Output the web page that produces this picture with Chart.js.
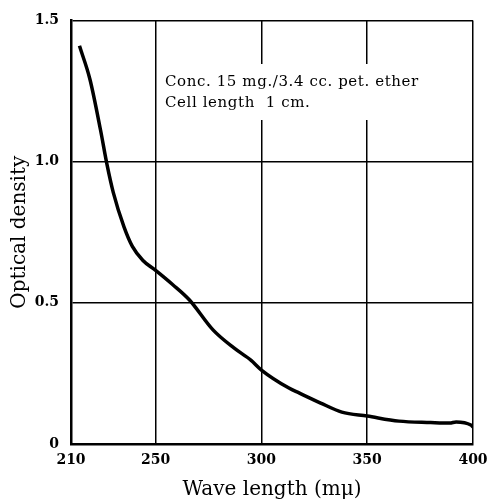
<!DOCTYPE html>
<html lang="en">
<head>
    <meta charset="UTF-8">
    <title>Optical density vs wave length</title>
    <script src="https://cdn.jsdelivr.net/npm/chart.js"></script>
    <style>
        html, body { margin: 0; padding: 0; background: #fff; }
        #wrap { width: 488px; height: 500px; }
    </style>
</head>
<body>
    <div id="wrap"><canvas id="absChart" width="488" height="500"></canvas></div>

    <script>
        // wave length (m-mu) and optical density
        var waveLength = [214, 219, 224, 227, 230, 235, 239, 244, 250, 258, 266, 277, 287, 295, 300, 313, 318, 328, 338, 350, 365, 380, 389, 392, 399, 400];
        var density    = [1.41, 1.29, 1.11, 0.99, 0.89, 0.77, 0.70, 0.65, 0.615, 0.565, 0.51, 0.405, 0.34, 0.297, 0.262, 0.198, 0.18, 0.145, 0.113, 0.099, 0.081, 0.076, 0.074, 0.078, 0.067, 0.06];

        var xTicks = [210, 250, 300, 350, 400];
        var yTicks = [0, 0.5, 1.0, 1.5];
        var yTickLabels = ['0', '0.5', '1.0', '1.5'];

        var noteLines = ['Conc. 15 mg./3.4 cc. pet. ether', 'Cell length  1 cm.'];

        var points = waveLength.map(function (w, i) { return { x: w, y: density[i] }; });

        // white box behind the note, so grid lines break around it
        var notePlugin = {
            id: 'note',
            beforeDatasetsDraw: function (chart) {
                var ctx = chart.ctx;
                ctx.save();
                ctx.fillStyle = '#fff';
                ctx.fillRect(160, 64, 272, 56);
                ctx.fillStyle = '#000';
                ctx.font = '15px "DejaVu Serif"';
                ctx.letterSpacing = '0.6px';
                ctx.textBaseline = 'middle';
                ctx.fillText(noteLines[0], 165, 82);
                ctx.fillText(noteLines[1], 165, 103);
                ctx.letterSpacing = '0px';
                ctx.restore();
            }
        };

        var tickFont = { family: 'DejaVu Serif', size: 14, weight: 'bold' };
        var titleFont = { family: 'DejaVu Serif', size: 20, lineHeight: 1 };

        var chart = new Chart(document.getElementById('absChart'), {
            type: 'line',
            data: {
                datasets: [{
                    data: points,
                    borderColor: '#000',
                    borderWidth: 3.5,
                    pointRadius: 0,
                    fill: false,
                    cubicInterpolationMode: 'monotone'
                }]
            },
            options: {
                responsive: false,
                animation: false,
                layout: { padding: { top: 20, right: 15, left: 0, bottom: 0 } },
                plugins: { legend: { display: false }, tooltip: { enabled: false } },
                scales: {
                    x: {
                        type: 'linear',
                        min: 210,
                        max: 400,
                        afterBuildTicks: function (s) { s.ticks = xTicks.map(function (v) { return { value: v }; }); },
                        afterFit: function (s) { s.height = 56; s.paddingLeft = 0; s.paddingRight = 0; },
                        grid: { color: '#000', lineWidth: 1.5, drawTicks: false },
                        border: { color: '#000', width: 2.5 },
                        ticks: { color: '#000', font: tickFont, padding: 8, maxRotation: 0 },
                        title: { display: true, text: 'Wave length (m\u03bc)', color: '#000', font: titleFont, padding: 0 }
                    },
                    y: {
                        min: 0,
                        max: 1.5,
                        afterBuildTicks: function (s) { s.ticks = yTicks.map(function (v) { return { value: v }; }); },
                        afterFit: function (s) { s.width = 71; },
                        grid: { color: '#000', lineWidth: 1.5, drawTicks: false },
                        border: { color: '#000', width: 2.5 },
                        ticks: {
                            color: '#000', font: tickFont, padding: 12,
                            callback: function (v) { return yTickLabels[yTicks.indexOf(v)]; }
                        },
                        title: { display: true, text: 'Optical density', color: '#000', font: titleFont, padding: { top: 10, bottom: 0 } }
                    }
                }
            },
            plugins: [notePlugin]
        });
    </script>
</body>
</html>
